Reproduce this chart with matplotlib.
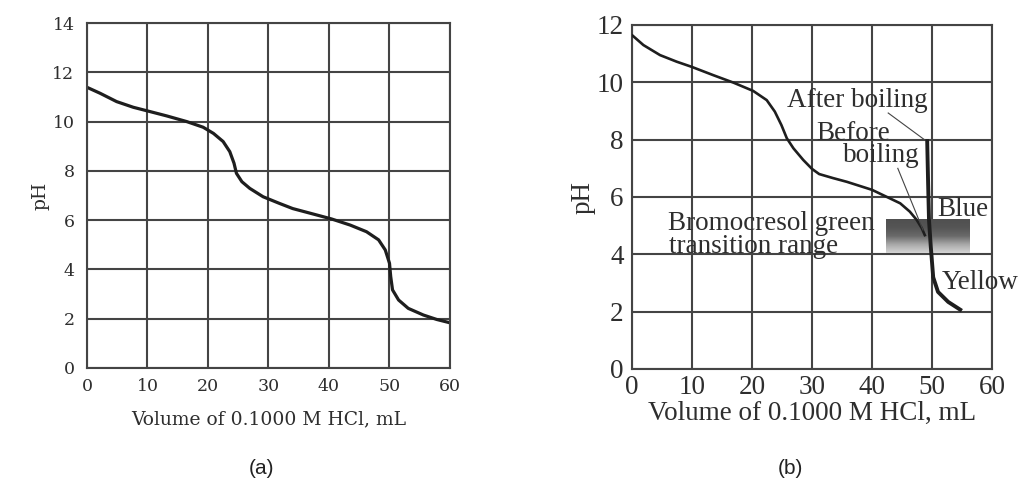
import numpy as np
import matplotlib
matplotlib.use("Agg")
import matplotlib.pyplot as plt
from matplotlib.colors import LinearSegmentedColormap

plt.rcParams['font.family'] = ['Liberation Serif', 'DejaVu Serif']

# ---- Panel (a): titration curve ----
vol_a = [0, 2.15, 4.9, 7.65, 9.87, 13.17, 16.48, 19.2, 20.9, 22.5, 23.6, 24.3,
         24.7, 25.6, 26.9, 29.1, 31.8, 34.0, 36.9, 40.4, 43.5, 46.2, 48.2,
         49.3, 50.0, 50.2, 50.5, 51.5, 53.1, 55.6, 57.8, 59.9]
ph_a = [11.39, 11.15, 10.81, 10.58, 10.44, 10.23, 10.0, 9.77, 9.52, 9.19, 8.78,
        8.31, 7.9, 7.56, 7.29, 6.95, 6.68, 6.47, 6.28, 6.05, 5.8, 5.53, 5.2,
        4.79, 4.25, 3.71, 3.17, 2.76, 2.42, 2.15, 1.97, 1.84]

# ---- Panel (b): before boiling ----
vol_b = [0.1, 1.9, 4.67, 7.45, 9.95, 13.55, 16.9, 20.2, 22.45, 23.8, 24.9,
         25.8, 26.9, 28.55, 30.0, 31.2, 33.5, 35.8, 40.0, 42.4, 44.7, 46.3,
         47.45, 48.3, 48.8]
ph_b = [11.63, 11.3, 10.95, 10.72, 10.54, 10.25, 9.99, 9.7, 9.38, 8.98, 8.51,
        8.05, 7.7, 7.29, 6.98, 6.8, 6.66, 6.53, 6.25, 6.01, 5.78, 5.49, 5.2,
        4.91, 4.67]

# ---- Panel (b): after boiling ----
vol_after = [49.2, 49.35, 49.5, 49.8, 50.2, 51.0, 52.7, 54.7]
ph_after = [7.95, 6.5, 5.2, 4.26, 3.2, 2.69, 2.34, 2.07]

# Indicator transition range
range_vol = [42.3, 56.3]
range_ph = [4.05, 5.23]

xticks = [0, 10, 20, 30, 40, 50, 60]
yticks_a = [0, 2, 4, 6, 8, 10, 12, 14]
yticks_b = [0, 2, 4, 6, 8, 10, 12]
xlabel = "Volume of 0.1000 M HCl, mL"

grid_col = "#444444"
line_col = "#1e1e1e"
txt_col = "#2e2e2e"

fig = plt.figure(figsize=(10.2, 4.95), dpi=100)
ax_a = fig.add_axes([87/1020, 1-368/495, 363/1020, 345/495])
ax_b = fig.add_axes([632/1020, 1-369/495, 360/1020, 344/495])


def style(ax, yticks, family, tsize, lsize, xpad, ypad, xlpad, ylpad):
    ax.set_xlim(0, 60)
    ax.set_ylim(0, yticks[-1])
    ax.set_xticks(xticks)
    ax.set_yticks(yticks)
    ax.tick_params(axis="x", length=0, labelsize=tsize, colors=txt_col, pad=xpad)
    ax.tick_params(axis="y", length=0, labelsize=tsize, colors=txt_col, pad=ypad)
    for lab in ax.get_xticklabels() + ax.get_yticklabels():
        lab.set_fontfamily(family)
    ax.grid(True, color=grid_col, linewidth=1.5)
    ax.set_axisbelow(True)
    for s in ax.spines.values():
        s.set_color(grid_col)
        s.set_linewidth(1.5)
    ax.set_xlabel(xlabel, fontsize=lsize, color=txt_col, labelpad=xlpad,
                  fontfamily=family)
    ax.set_ylabel("pH", fontsize=lsize, color=txt_col, labelpad=ylpad,
                  fontfamily=family)


style(ax_a, yticks_a, "DejaVu Serif", 12.5, 13.5, 7, 9, 11, 2)
style(ax_b, yticks_b, "Liberation Serif", 19.5, 19.5, 4, 6, 1, 1)

ax_a.plot(vol_a, ph_a, color=line_col, linewidth=2.3, solid_capstyle="round")

# gradient box for the indicator range
cmap = LinearSegmentedColormap.from_list(
    "ind", ["#d4d4d4", "#a8a8a8", "#6a6a6a", "#555555", "#505050"])
grad = np.linspace(0, 1, 100).reshape(-1, 1)
ax_b.imshow(grad, cmap=cmap, aspect="auto", origin="lower",
            extent=[range_vol[0], range_vol[1], range_ph[0], range_ph[1]], zorder=2)
ax_b.set_xlim(0, 60)
ax_b.set_ylim(0, 12)

ax_b.plot(vol_b, ph_b, color=line_col, linewidth=1.9, zorder=3)
ax_b.plot(vol_after, ph_after, color=line_col, linewidth=2.8, zorder=3)

fs = 19.5
ax_b.text(49.3, 9.38, "After boiling", fontsize=fs, ha="right", va="center", color=txt_col)
ax_b.text(43.0, 8.23, "Before", fontsize=fs, ha="right", va="center", color=txt_col)
ax_b.text(48.0, 7.46, "boiling", fontsize=fs, ha="right", va="center", color=txt_col)
ax_b.plot([42.7, 48.8], [8.93, 7.99], color="#444444", linewidth=0.8, zorder=3)
ax_b.plot([44.3, 48.5], [7.0, 4.85], color="#444444", linewidth=0.8, zorder=3)
ax_b.text(50.8, 5.55, "Blue", fontsize=fs, ha="left", va="center", color=txt_col)
ax_b.text(51.7, 3.03, "Yellow", fontsize=fs, ha="left", va="center", color=txt_col,
          clip_on=False)
ax_b.text(6.0, 5.09, "Bromocresol green", fontsize=fs, ha="left", va="center", color=txt_col)
ax_b.text(6.2, 4.28, "transition range", fontsize=fs, ha="left", va="center", color=txt_col)

fig.text(262/1020, 1-468/495, "(a)", fontsize=15, family="Liberation Sans",
         ha="center", va="center", color="#222222")
fig.text(790/1020, 1-468/495, "(b)", fontsize=15, family="Liberation Sans",
         ha="center", va="center", color="#222222")

fig.savefig("out.png", dpi=100, facecolor="white")
